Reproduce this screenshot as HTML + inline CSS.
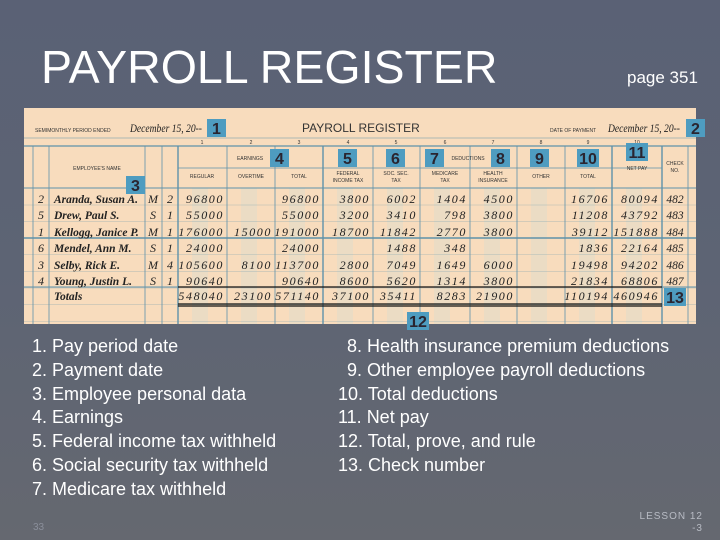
<!DOCTYPE html>
<html><head><meta charset="utf-8">
<style>
*{margin:0;padding:0;box-sizing:border-box}
body{width:720px;height:540px;overflow:hidden;position:relative;font-family:"Liberation Sans",sans-serif;
background:linear-gradient(180deg,#5a6175 0%,#5d6474 50%,#656870 100%);}
.t{position:absolute;color:#fff;white-space:nowrap}
.li{position:absolute;color:#fff;font-size:18px;white-space:nowrap;line-height:20px}
svg{position:absolute;left:0;top:0}
</style></head><body>
<div class="t" style="left:41px;top:41px;font-size:46.5px;line-height:52px">PAYROLL REGISTER</div>
<div class="t" style="left:627px;top:68px;font-size:17px">page 351</div>

<svg id="reg" width="720" height="540"></svg>

<div>
<div class="li" style="left:32px;top:336px">1. Pay period date</div>
<div class="li" style="left:32px;top:360px">2. Payment date</div>
<div class="li" style="left:32px;top:384px">3. Employee personal data</div>
<div class="li" style="left:32px;top:407px">4. Earnings</div>
<div class="li" style="left:32px;top:431px">5. Federal income tax withheld</div>
<div class="li" style="left:32px;top:455px">6. Social security tax withheld</div>
<div class="li" style="left:32px;top:479px">7. Medicare tax withheld</div>
</div>
<div>
<div class="li" style="left:347px;top:336px">8. Health insurance premium deductions</div>
<div class="li" style="left:347px;top:360px">9. Other employee payroll deductions</div>
<div class="li" style="left:338px;top:384px">10. Total deductions</div>
<div class="li" style="left:338px;top:407px">11. Net pay</div>
<div class="li" style="left:338px;top:431px">12. Total, prove, and rule</div>
<div class="li" style="left:338px;top:455px">13. Check number</div>
</div>
<div class="t" style="left:33px;top:522px;font-size:10px;color:#8a8f9a">33</div>
<div class="t" style="right:17px;top:511px;font-size:10px;color:#b8bcc4;text-align:right;line-height:12px;letter-spacing:1px">LESSON 12<br>-3</div>

<script>
const names=["Aranda, Susan A.","Drew, Paul S.","Kellogg, Janice P.","Mendel, Ann M.","Selby, Rick E.","Young, Justin L.","Totals"];
const empl=["2","5","1","6","3","4",""];
const marital=["M","S","M","S","M","S",""];
const allow=["2","1","1","1","4","1",""];
const regular=["96800","55000","176000","24000","105600","90640","548040"];
const overtime=["","","15000","","8100","","23100"];
const totalEarn=["96800","55000","191000","24000","113700","90640","571140"];
const fed=["3800","3200","18700","","2800","8600","37100"];
const soc=["6002","3410","11842","1488","7049","5620","35411"];
const med=["1404","798","2770","348","1649","1314","8283"];
const health=["4500","3800","3800","","6000","3800","21900"];
const totalDed=["16706","11208","39112","1836","19498","21834","110194"];
const net=["80094","43792","151888","22164","94202","68806","460946"];
const check=["482","483","484","485","486","487",""];

const svg=document.getElementById('reg');const NS='http://www.w3.org/2000/svg';
function mk(tag,a,txt){const e=document.createElementNS(NS,tag);for(const k in a)e.setAttribute(k,a[k]);if(txt!==undefined)e.textContent=txt;svg.appendChild(e);return e;}
const L='#5e92aa';
let e=mk('rect',{x:24,y:108,width:672,height:216,fill:'#f8dcbd'});


const cols=[[178,227],[227,275],[275,323],[323,373],[373,420],[420,470],[470,517],[517,565],[565,612],[612,662]];
cols.forEach(c=>{mk('rect',{x:c[0]+14,y:188,width:16,height:136,fill:'#dcdccc',opacity:0.45});});
[[24,146,696,1.2],[24,188,696,1],[24,238,696,1.6],[24,287,696,1]].forEach(h=>mk('line',{x1:h[0],y1:h[1],x2:h[2],y2:h[1],stroke:L,'stroke-width':h[3]}));
for(let y=205;y<324;y+=16.6)mk('line',{x1:24,y1:y,x2:696,y2:y,stroke:L,'stroke-width':0.4,opacity:0.6});
mk('line',{x1:178,y1:168,x2:662,y2:168,stroke:L,'stroke-width':0.8});
mk('line',{x1:24,y1:138,x2:696,y2:138,stroke:L,'stroke-width':0.5});
[33,49,145,162,178,227,275,323,373,420,470,517,565,612,662,688].forEach(x=>mk('line',{x1:x,y1:146,x2:x,y2:324,stroke:L,'stroke-width':(x==178||x==323||x==612||x==662)?1.4:0.8}));
mk('line',{x1:178,y1:287,x2:662,y2:287,stroke:'#111','stroke-width':1.2});
mk('line',{x1:178,y1:304,x2:662,y2:304,stroke:'#111','stroke-width':1.2});
mk('line',{x1:178,y1:306,x2:662,y2:306,stroke:'#111','stroke-width':1.2});
const sm={fill:'#333','font-size':5,'font-family':'Liberation Sans'};
mk('text',Object.assign({x:35,y:132},sm),'SEMIMONTHLY PERIOD ENDED');
mk('text',{x:130,y:132,'font-size':12,'font-style':'italic','font-family':'Liberation Serif',fill:'#222',textLength:72,lengthAdjust:'spacingAndGlyphs'},'December 15, 20--');
mk('text',{x:302,y:132,'font-size':12,'font-family':'Liberation Sans',fill:'#333'},'PAYROLL REGISTER');
mk('text',Object.assign({x:550,y:132},sm),'DATE OF PAYMENT');
mk('text',{x:608,y:132,'font-size':12,'font-style':'italic','font-family':'Liberation Serif',fill:'#222',textLength:72,lengthAdjust:'spacingAndGlyphs'},'December 15, 20--');
const hdr=[[202,178,'REGULAR'],[251,178,'OVERTIME'],[299,178,'TOTAL'],[348,175,'FEDERAL'],[348,182,'INCOME TAX'],[396,175,'SOC. SEC.'],[396,182,'TAX'],[445,175,'MEDICARE'],[445,182,'TAX'],[493,175,'HEALTH'],[493,182,'INSURANCE'],[541,178,'OTHER'],[588,178,'TOTAL'],[637,170,'NET PAY'],[675,165,'CHECK'],[675,172,'NO.'],[97,170,'EMPLOYEE\'S NAME'],[250,160,'EARNINGS'],[468,160,'DEDUCTIONS']];
hdr.forEach(h=>mk('text',Object.assign({x:h[0],y:h[1],'text-anchor':'middle'},sm),h[2]));
[[202,'1'],[251,'2'],[299,'3'],[348,'4'],[396,'5'],[445,'6'],[493,'7'],[541,'8'],[588,'9'],[637,'10']].forEach(h=>mk('text',Object.assign({x:h[0],y:144,'text-anchor':'middle'},sm),h[1]));
const rowY=[203,219,236,252,269,285,300];
function num(x,y,s){if(!s)return;mk('text',{x:x,y:y,'text-anchor':'end','font-size':12,'font-style':'italic','font-family':'Liberation Serif',fill:'#222','letter-spacing':1.6},s);}
for(let i=0;i<names.length;i++){
  const y=rowY[i];
  const g=mk('text',{x:54,y:y,'font-size':11.5,'font-style':'italic','font-weight':'bold','font-family':'Liberation Serif',fill:'#222'},names[i]);
  
  
  mk('text',{x:41,y:y,'text-anchor':'middle','font-size':12,'font-style':'italic','font-family':'Liberation Serif',fill:'#222'},empl[i]);
  mk('text',{x:153,y:y,'text-anchor':'middle','font-size':12,'font-style':'italic','font-family':'Liberation Serif',fill:'#222'},marital[i]);
  mk('text',{x:170,y:y,'text-anchor':'middle','font-size':12,'font-style':'italic','font-family':'Liberation Serif',fill:'#222'},allow[i]);
  num(224,y,regular[i]);num(272,y,overtime[i]);num(320,y,totalEarn[i]);num(370,y,fed[i]);
  num(417,y,soc[i]);num(467,y,med[i]);num(514,y,health[i]);num(609,y,totalDed[i]);num(659,y,net[i]);
  mk('text',{x:675,y:y,'text-anchor':'middle','font-size':11.5,'font-style':'italic','font-family':'Liberation Serif',fill:'#222'},check[i]);
}
const badges=[['1',207,119],['2',686,119],['3',126,176],['4',270,149],['5',338,149],['6',386,149],['7',425,149],['8',491,149],['9',530,149],['10',577,149],['11',626,143],['12',407,312],['13',664,288]];
badges.forEach(b=>{
  const w=b[0].length>1?22:19;
  const r=mk('rect',{x:b[1],y:b[2],width:w,height:18,fill:'#4e9cc0'});
  
  
  mk('text',{x:b[1]+w/2,y:b[2]+15,'text-anchor':'middle','font-size':16,'font-weight':'bold','font-family':'Liberation Sans',fill:'#2a2530'},b[0]);
});
</script>
</body></html>
